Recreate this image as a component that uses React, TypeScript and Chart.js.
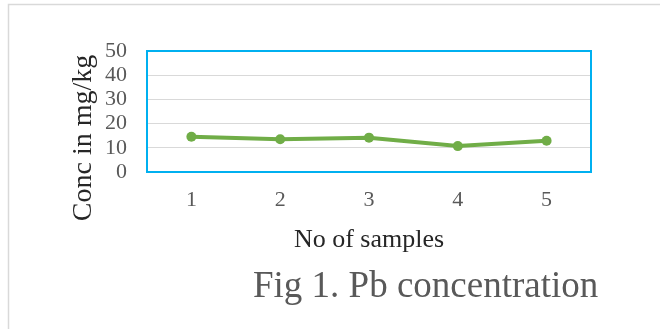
import React, { useEffect, useRef } from "react";
import { Chart, registerables } from "chart.js";

Chart.register(...registerables);

const categories: string[] = ["1", "2", "3", "4", "5"];
const pbValues: number[] = [14.6, 13.5, 14.2, 10.7, 12.9];
const yTickValues: number[] = [0, 10, 20, 30, 40, 50];
const xTitle = "No of samples";
const yTitle = "Conc in mg/kg";
const caption = "Fig 1. Pb concentration";

const SERIF = "'Liberation Serif', 'Times New Roman', serif";

const decorPlugin = {
  id: "decor",
  beforeDraw(chart: any) {
    const { ctx, width, height } = chart;
    ctx.save();
    ctx.fillStyle = "#ffffff";
    ctx.fillRect(0, 0, width, height);
    ctx.strokeStyle = "#d9d9d9";
    ctx.lineWidth = 1.5;
    ctx.beginPath();
    ctx.moveTo(8.5, height);
    ctx.lineTo(8.5, 4.5);
    ctx.lineTo(width, 4.5);
    ctx.stroke();
    ctx.restore();
  },
  beforeDatasetsDraw(chart: any) {
    const { ctx, chartArea } = chart;
    ctx.save();
    ctx.strokeStyle = "#00B0F0";
    ctx.lineWidth = 2;
    ctx.strokeRect(
      chartArea.left,
      chartArea.top,
      chartArea.right - chartArea.left,
      chartArea.bottom - chartArea.top
    );
    ctx.restore();
  },
  afterDraw(chart: any) {
    const { ctx } = chart;
    ctx.save();
    // y-axis title
    ctx.translate(84, 138);
    ctx.rotate(-Math.PI / 2);
    ctx.font = `28px ${SERIF}`;
    ctx.fillStyle = "#262626";
    ctx.textAlign = "center";
    ctx.textBaseline = "middle";
    ctx.fillText(yTitle, 0, 0);
    ctx.restore();

    ctx.save();
    ctx.font = `37px ${SERIF}`;
    ctx.fillStyle = "#595959";
    ctx.textAlign = "left";
    ctx.textBaseline = "alphabetic";
    ctx.fillText(caption, 253, 297);
    ctx.restore();
  },
};

export default function App() {
  const canvasRef = useRef<HTMLCanvasElement | null>(null);

  useEffect(() => {
    document.body.style.margin = "0";
    const canvas = canvasRef.current;
    if (!canvas) return;
    const chart = new Chart(canvas, {
      type: "line",
      data: {
        labels: categories,
        datasets: [
          {
            label: "Pb",
            data: pbValues,
            borderColor: "#70AD47",
            backgroundColor: "#70AD47",
            borderWidth: 4,
            pointRadius: 5,
            pointBackgroundColor: "#70AD47",
            pointBorderColor: "#70AD47",
            pointBorderWidth: 0,
            tension: 0,
          },
        ],
      },
      options: {
        responsive: false,
        animation: false,
        devicePixelRatio: 1,
        layout: { padding: { top: 51, right: 69, left: 0, bottom: 67 } },
        plugins: {
          legend: { display: false },
          tooltip: { enabled: false },
          title: { display: false },
        },
        scales: {
          x: {
            offset: true,
            border: { display: false },
            grid: { display: false, drawTicks: false },
            ticks: {
              padding: 15,
              color: "#595959",
              font: { family: SERIF, size: 22 },
            },
            title: {
              display: true,
              text: xTitle,
              color: "#262626",
              font: { family: SERIF, size: 26 },
              padding: { top: 0, bottom: 6 },
            },
            afterFit(scale: any) {
              scale.height = 90;
            },
          },
          y: {
            min: yTickValues[0],
            max: yTickValues[yTickValues.length - 1],
            border: { display: false },
            grid: { color: "#d9d9d9", lineWidth: 1, drawTicks: false },
            ticks: {
              stepSize: yTickValues[1] - yTickValues[0],
              autoSkip: false,
              padding: 20,
              color: "#595959",
              font: { family: SERIF, size: 22 },
            },
            title: { display: false },
            afterFit(scale: any) {
              scale.width = 147;
            },
          },
        },
      },
      plugins: [decorPlugin],
    });
    return () => chart.destroy();
  }, []);

  return (
    <div style={{ position: "absolute", left: 0, top: 0, width: 660, height: 329 }}>
      <canvas ref={canvasRef} width={660} height={329} />
    </div>
  );
}
